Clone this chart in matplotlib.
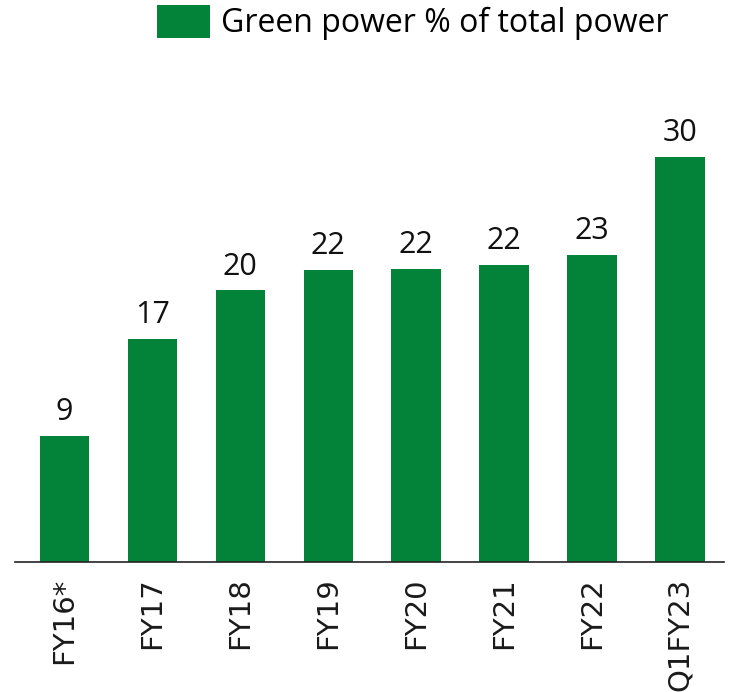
import matplotlib.pyplot as plt
from matplotlib.patches import Patch

# data
categories = ["FY16*", "FY17", "FY18", "FY19", "FY20", "FY21", "FY22", "Q1FY23"]
values = [9.3, 16.5, 20.1, 21.6, 21.7, 22.0, 22.7, 30.0]
value_labels = ["9", "17", "20", "22", "22", "22", "23", "30"]

GREEN = "#03823A"

fig = plt.figure(figsize=(7.31, 6.92), dpi=100)
ax = fig.add_axes([15 / 731, 130 / 692, 709 / 731, 462 / 692])

x = range(len(categories))
bars = ax.bar(x, values, width=0.56, color=GREEN, label="Green power % of total power")

for rect, lab in zip(bars, value_labels):
    ax.annotate(lab, (rect.get_x() + rect.get_width() / 2, rect.get_height()),
                xytext=(0, 11.5), textcoords="offset points",
                ha="center", va="baseline", fontsize=22,
                family="Open Sans", color="#111111")

ax.set_xlim(-0.56, 7.5)
ax.set_ylim(0, 34.2)
ax.set_xticks(list(x))
ax.set_xticklabels(categories, rotation=90, fontsize=21, family="DejaVu Sans",
                   color="#1a1a1a")
ax.tick_params(axis="x", length=0, pad=11)
ax.set_yticks([])
for side in ["left", "right", "top"]:
    ax.spines[side].set_visible(False)
ax.spines["bottom"].set_linewidth(1.2)
ax.spines["bottom"].set_color("#222222")

handle = Patch(facecolor=GREEN, edgecolor="none")
fig.legend([handle], ["Green power % of total power"],
           loc="upper right", bbox_to_anchor=(673 / 731, 1.0),
           frameon=False, prop={"family": "Open Sans", "size": 23},
           handlelength=1.66, handleheight=1.22, handletextpad=0.35,
           borderaxespad=0.0, borderpad=0.15)

fig.savefig("out.png", dpi=100)
